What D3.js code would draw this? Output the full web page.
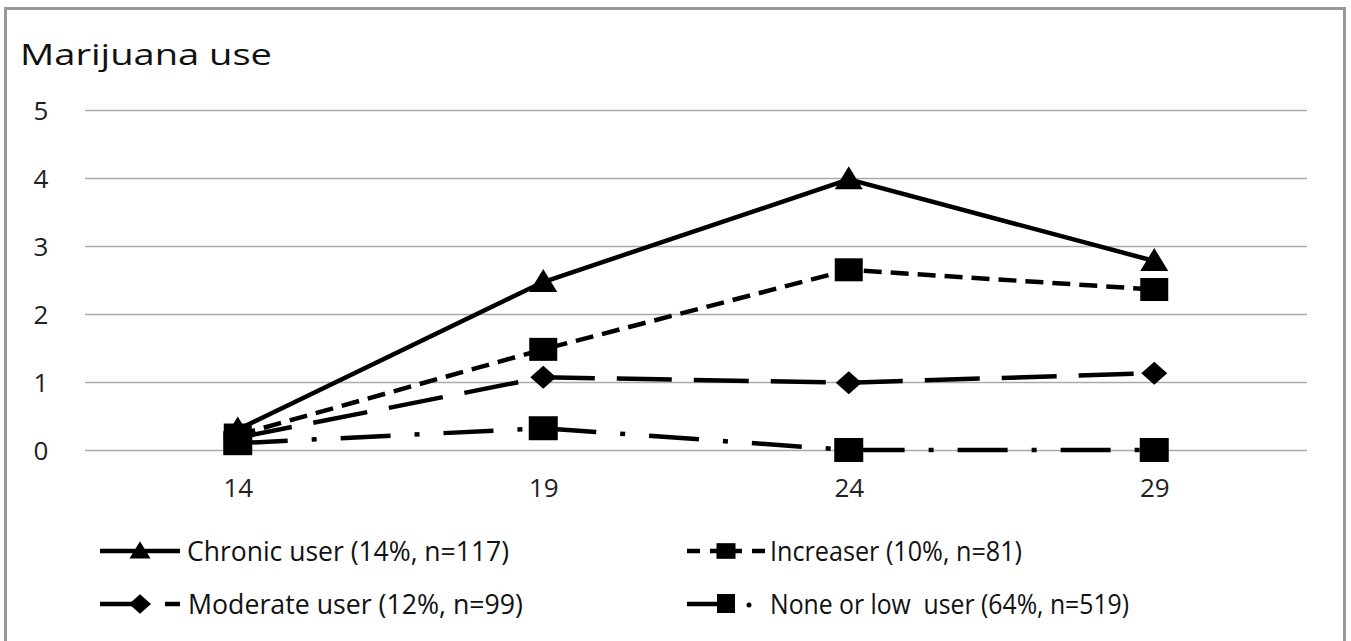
<!DOCTYPE html>
<html><head><meta charset="utf-8">
<script src="https://cdn.jsdelivr.net/npm/d3@7"></script>
<style>body{margin:0;background:#fff;}svg{display:block;font-family:"Open Sans",sans-serif;}</style>
</head><body><svg id="c" width="1351" height="641"></svg>
<script>
const ages = ["14","19","24","29"];
const yTicks = [0,1,2,3,4,5];
const chronic = [0.3, 2.47, 3.98, 2.78];
const increaser = [0.22, 1.48, 2.65, 2.36];
const moderate = [0.18, 1.07, 0.99, 1.13];
const noneLow = [0.1, 0.32, 0.0, 0.0];
const seriesNames = ["Chronic user (14%, n=117)","Increaser (10%, n=81)","Moderate user (12%, n=99)","None or low  user (64%, n=519)"];

const svg = d3.select("#c");
// frame
svg.append("path").attr("d","M5.5,641 V8.5 H1344.5 V641").attr("fill","none").attr("stroke","#999").attr("stroke-width",3);

const x = d3.scalePoint().domain(ages).range([85,1307]).padding(0.5);
const y = d3.scaleLinear().domain([0,5]).range([450,110]);

svg.append("text").attr("x",20).attr("y",65).attr("font-size",30).attr("fill","#111")
  .attr("textLength",252).attr("lengthAdjust","spacingAndGlyphs").text("Marijuana use");

const gy = svg.append("g").attr("transform","translate(85,0)")
  .call(d3.axisLeft(y).tickValues(yTicks).tickSize(-1222).tickFormat(d3.format("d")).tickPadding(44));
gy.select(".domain").remove();
gy.selectAll("line").attr("stroke","#aaa").attr("stroke-width",1.5);
gy.selectAll("text").attr("font-size",26).attr("fill","#222").attr("font-family","Open Sans").attr("dy","0.36em").attr("text-anchor","middle");

const gx = svg.append("g").attr("transform","translate(0,450)")
  .call(d3.axisBottom(x).tickSize(0).tickPadding(29));
gx.select(".domain").remove();
gx.selectAll("text").attr("font-size",26).attr("fill","#222").attr("font-family","Open Sans");

const series = [
  {vals:chronic, dash:null, marker:"tri"},
  {vals:increaser, dash:"18,9", marker:"sq"},
  {vals:moderate, dash:"55,22", marker:"dia"},
  {vals:noneLow, dash:"50,24,5,24", marker:"sqb"}
];
const line = d3.line().x((d,i)=>x(ages[i])).y(d=>y(d));

function marker(g, type, cx, cy, k){
  k = k || 1;
  if(type==="tri") g.append("path").attr("d",`M${cx},${cy-13*k} L${cx+14*k},${cy+10*k} L${cx-14*k},${cy+10*k} Z`).attr("fill","#000");
  else if(type==="sq") g.append("rect").attr("x",cx-14*k).attr("y",cy-11.5*k).attr("width",28*k).attr("height",23*k).attr("fill","#000");
  else if(type==="sqb") g.append("rect").attr("x",cx-14.5*k).attr("y",cy-12*k).attr("width",29*k).attr("height",24*k).attr("fill","#000");
  else if(type==="dia") g.append("path").attr("d",`M${cx},${cy-11.5*k} L${cx+13*k},${cy} L${cx},${cy+11.5*k} L${cx-13*k},${cy} Z`).attr("fill","#000");
}

series.forEach(s=>{
  svg.append("path").datum(s.vals).attr("d",line).attr("fill","none").attr("stroke","#000").attr("stroke-width",4.5)
    .attr("stroke-dasharray",s.dash);
});
series.slice().reverse().forEach(s=>{
  const g = svg.append("g");
  s.vals.forEach((v,i)=>marker(g,s.marker,x(ages[i]),y(v)));
});

// legend
function hl(g,x1,x2,yy,dash){g.append("line").attr("x1",x1).attr("x2",x2).attr("y1",yy).attr("y2",yy).attr("stroke","#000").attr("stroke-width",4.5).attr("stroke-dasharray",dash||null);}
const leg = [
  {y:551, name:seriesNames[0], tx:187, w:322, draw:(g,yy)=>{hl(g,100,180,yy);marker(g,"tri",140,yy,0.75);}},
  {y:551, name:seriesNames[1], tx:770, w:252, draw:(g,yy)=>{hl(g,687,700,yy);hl(g,710,742,yy);hl(g,752,765,yy);marker(g,"sq",726,yy,0.68);}},
  {y:604, name:seriesNames[2], tx:188, w:335, draw:(g,yy)=>{hl(g,100,136,yy);hl(g,165,180,yy);marker(g,"dia",140,yy,0.85);}},
  {y:604, name:seriesNames[3], tx:770, w:359, draw:(g,yy)=>{hl(g,687,720,yy);g.append("rect").attr("x",717).attr("y",yy-10).attr("width",18).attr("height",19).attr("fill","#000");g.append("circle").attr("cx",749).attr("cy",yy+1).attr("r",2.5).attr("fill","#000");}}
];
leg.forEach(l=>{
  const g = svg.append("g");
  l.draw(g,l.y);
  g.append("text").attr("x",l.tx).attr("y",l.y).attr("dy","0.36em").attr("font-size",27).attr("fill","#111")
    .attr("textLength",l.w).attr("lengthAdjust","spacingAndGlyphs").attr("xml:space","preserve").style("white-space","pre").text(l.name);
});
</script></body></html>
